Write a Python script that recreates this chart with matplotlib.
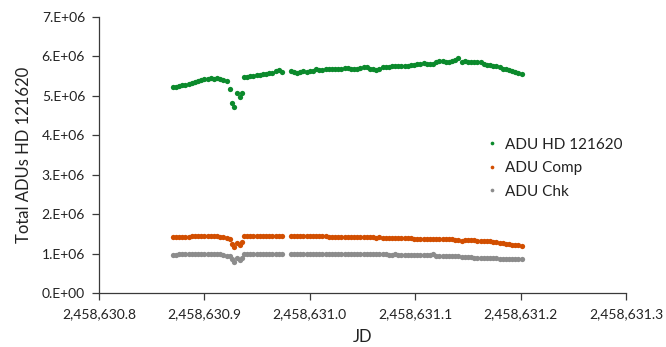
import math
import matplotlib
matplotlib.use("Agg")
import matplotlib.pyplot as plt
from matplotlib.ticker import FuncFormatter, MultipleLocator

plt.rcParams['font.family'] = ['Lato', 'DejaVu Sans']

JD_BASE = 2458630.0

# x tick positions (fractional JD)
x_ticks = [0.8, 0.9, 1.0, 1.1, 1.2, 1.3]

# fractional JD (days after JD_BASE)
jd_a = [0.870, 0.873, 0.876, 0.879, 0.882, 0.885, 0.888, 0.891, 0.894, 0.897,
        0.900, 0.903, 0.906, 0.909, 0.912, 0.915, 0.918, 0.921]
jd_dip = [0.9242, 0.9264, 0.9283, 0.9311, 0.9337, 0.9356]
jd_b = [0.9375, 0.9405, 0.9435, 0.9465, 0.9495, 0.9525, 0.9555, 0.9585, 0.9615,
        0.9645, 0.9675, 0.9705, 0.9735]
jd_c = [0.982, 0.985, 0.988, 0.991, 0.994, 0.997, 1.000, 1.003, 1.006, 1.009,
        1.012, 1.015, 1.018, 1.021, 1.024, 1.027, 1.030, 1.033, 1.036, 1.039,
        1.042, 1.045, 1.048, 1.051, 1.054, 1.057, 1.060, 1.063, 1.066, 1.069,
        1.072, 1.075, 1.078, 1.081, 1.084, 1.087, 1.090, 1.093, 1.096, 1.099,
        1.102, 1.105, 1.108, 1.111, 1.114, 1.117, 1.120, 1.123, 1.126, 1.129,
        1.132, 1.135, 1.138, 1.141, 1.144, 1.147, 1.150, 1.153, 1.156, 1.159,
        1.162, 1.165, 1.168, 1.171, 1.174, 1.177, 1.180, 1.183, 1.186, 1.189,
        1.192, 1.195, 1.198, 1.201]

# ADU values in millions
adu_hd_a = [5.22, 5.23, 5.25, 5.27, 5.28, 5.31, 5.33, 5.36, 5.38, 5.41,
            5.43, 5.44, 5.45, 5.44, 5.45, 5.43, 5.41, 5.38]
adu_hd_dip = [5.17, 4.81, 4.71, 5.08, 4.96, 5.08]
adu_hd_b = [5.47, 5.49, 5.50, 5.51, 5.53, 5.53, 5.55, 5.56, 5.58, 5.59, 5.62, 5.66, 5.61]
adu_hd_c = [5.62, 5.61, 5.58, 5.60, 5.62, 5.61, 5.63, 5.64, 5.67, 5.66,
            5.65, 5.67, 5.69, 5.68, 5.67, 5.68, 5.69, 5.70, 5.70, 5.69,
            5.68, 5.68, 5.70, 5.72, 5.74, 5.69, 5.67, 5.66, 5.69, 5.73,
            5.74, 5.73, 5.75, 5.76, 5.75, 5.76, 5.76, 5.75, 5.77, 5.78,
            5.80, 5.82, 5.83, 5.81, 5.80, 5.82, 5.86, 5.89, 5.88, 5.86,
            5.87, 5.88, 5.91, 5.95, 5.87, 5.89, 5.86, 5.85, 5.86, 5.87,
            5.87, 5.80, 5.78, 5.78, 5.76, 5.76, 5.72, 5.69, 5.67, 5.65,
            5.63, 5.60, 5.57, 5.55]

adu_comp_a = [1.42, 1.42, 1.43, 1.43, 1.43, 1.43, 1.44, 1.44, 1.45, 1.44,
              1.45, 1.44, 1.44, 1.45, 1.44, 1.43, 1.42, 1.40]
adu_comp_dip = [1.36, 1.24, 1.16, 1.28, 1.22, 1.30]
adu_comp_b = [1.45, 1.45, 1.45, 1.45, 1.45, 1.45, 1.45, 1.45, 1.45, 1.45, 1.45, 1.45, 1.45]
adu_comp_c = [1.44, 1.44, 1.45, 1.44, 1.45, 1.44, 1.44, 1.45, 1.44, 1.44,
              1.44, 1.44, 1.43, 1.43, 1.43, 1.43, 1.43, 1.43, 1.43, 1.42,
              1.42, 1.42, 1.42, 1.42, 1.42, 1.42, 1.41, 1.39, 1.41, 1.39,
              1.40, 1.40, 1.40, 1.40, 1.40, 1.40, 1.40, 1.40, 1.39, 1.38,
              1.38, 1.38, 1.38, 1.38, 1.38, 1.37, 1.36, 1.36, 1.36, 1.36,
              1.36, 1.36, 1.35, 1.35, 1.33, 1.35, 1.34, 1.34, 1.34, 1.33,
              1.33, 1.32, 1.31, 1.31, 1.29, 1.29, 1.27, 1.27, 1.25, 1.25,
              1.23, 1.22, 1.21, 1.19]

adu_chk_a = [0.97, 0.97, 0.98, 0.98, 0.99, 0.98, 0.98, 0.99, 0.99, 0.99,
             1.00, 0.99, 0.99, 0.99, 0.99, 0.98, 0.97, 0.95]
adu_chk_dip = [0.93, 0.86, 0.78, 0.88, 0.83, 0.88]
adu_chk_b = [1.00, 1.00, 1.00, 1.00, 1.00, 1.00, 1.00, 1.00, 1.00, 1.00, 1.00, 1.00, 1.00]
adu_chk_c = [1.00, 1.00, 1.00, 1.00, 1.00, 1.00, 1.00, 1.00, 1.00, 1.00,
             1.00, 1.00, 1.00, 0.99, 0.99, 0.99, 0.99, 0.99, 0.99, 0.99,
             0.99, 0.99, 0.99, 0.99, 0.99, 0.99, 0.99, 0.99, 0.99, 0.99,
             0.99, 0.97, 0.97, 1.00, 0.97, 0.97, 0.97, 0.97, 0.97, 0.97,
             0.97, 0.97, 0.97, 0.97, 0.97, 1.00, 0.95, 0.95, 0.95, 0.95,
             0.94, 0.94, 0.93, 0.93, 0.92, 0.92, 0.91, 0.91, 0.90, 0.90,
             0.90, 0.90, 0.90, 0.90, 0.90, 0.88, 0.86, 0.85, 0.85, 0.85,
             0.85, 0.85, 0.85, 0.85]

series_names = ["ADU HD 121620", "ADU Comp", "ADU Chk"]
colors = ["#0b8a2c", "#d24e00", "#8c8c8c"]

jd_all = jd_a + jd_dip + jd_b + jd_c
x = [JD_BASE + v for v in jd_all]
series = [
    adu_hd_a + adu_hd_dip + adu_hd_b + adu_hd_c,
    adu_comp_a + adu_comp_dip + adu_comp_b + adu_comp_c,
    adu_chk_a + adu_chk_dip + adu_chk_b + adu_chk_c,
]

fig = plt.figure(figsize=(6.66, 3.47), dpi=100)
ax = fig.add_axes([99 / 666, 54 / 347, 527 / 666, 276 / 347])

for name, col, vals in zip(series_names, colors, series):
    ax.plot(x, [v * 1e6 for v in vals], linestyle='none', marker='o',
            markersize=3.8, markeredgewidth=0, color=col, label=name)

ax.set_xlim(JD_BASE + x_ticks[0], JD_BASE + x_ticks[-1])
ax.set_ylim(0, 7e6)
ax.set_xticks([JD_BASE + t for t in x_ticks])
ax.yaxis.set_major_locator(MultipleLocator(1e6))


def xfmt(v, pos):
    return f"{v:,.1f}"


def yfmt(v, pos):
    if abs(v) < 1:
        return "0.E+00"
    e = int(math.floor(math.log10(abs(v)) + 1e-9))
    m = v / 10 ** e
    return f"{m:.0f}.E+{e:02d}"


ax.xaxis.set_major_formatter(FuncFormatter(xfmt))
ax.yaxis.set_major_formatter(FuncFormatter(yfmt))

for s in ['top', 'right']:
    ax.spines[s].set_visible(False)
for s in ['left', 'bottom']:
    ax.spines[s].set_color('#3a3a3a')
    ax.spines[s].set_linewidth(0.9)

ax.tick_params(axis='both', direction='out', length=5, width=0.9, color='#3a3a3a',
               labelsize=10, labelcolor='#222222')
ax.tick_params(axis='y', pad=5)
ax.tick_params(axis='x', pad=6)

ax.set_xlabel("JD", fontsize=12, color='#222222', labelpad=6)
ax.set_ylabel("Total ADUs HD 121620", fontsize=12, color='#222222', labelpad=7)

leg = ax.legend(loc='upper left', bbox_to_anchor=(474 / 666, 1 - 124 / 347),
                bbox_transform=fig.transFigure, frameon=False, fontsize=11,
                markerscale=0.7, handlelength=0.6, handletextpad=0.5,
                labelspacing=0.62, labelcolor='#222222')

fig.savefig("out.png", dpi=100)
